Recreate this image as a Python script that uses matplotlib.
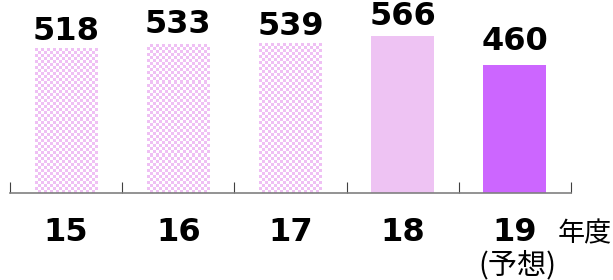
import matplotlib
matplotlib.use('Agg')
import matplotlib.pyplot as plt
from matplotlib.colors import ListedColormap
import numpy as np

years = ['15', '16', '17', '18', '19']
values = [518, 533, 539, 566, 460]
fills = ['#FFFFFF', '#FFFFFF', '#FFFFFF', '#EEC3F3', '#CC66FF']
patterned = [True, True, True, False, False]
label_gap = [6.2, 8.6, 6.0, 7.8, 10.8]  # points above bar top

fig = plt.figure(figsize=(6.13, 2.8), dpi=100)
ax = fig.add_axes([10/613, 87/280, 561/613, 193/280])
ax.set_xlim(-0.5, 4.5)
ax.set_ylim(0, 694)

x = np.arange(len(years))
checker = ListedColormap(['#FFFFFF', '#EFC0F4'])
cell = 3  # pixels per checker square
for i in range(len(years)):
    bars = ax.bar(x[i], values[i], width=0.56, color=fills[i], linewidth=0)
    if patterned[i]:
        # small checkerboard fill, clipped to the bar
        r = bars[0]
        x0, x1 = r.get_x(), r.get_x() + r.get_width()
        p0 = ax.transData.transform((x0, 0))
        p1 = ax.transData.transform((x1, values[i]))
        nx = int(round((p1[0] - p0[0]) / cell))
        ny = int(round((p1[1] - p0[1]) / cell))
        board = (np.add.outer(np.arange(ny), np.arange(nx)) % 2)
        ax.imshow(board, cmap=checker, extent=[x0, x1, 0, values[i]],
                  aspect='auto', interpolation='nearest', zorder=2,
                  clip_path=r, origin='lower')
    ax.annotate(str(values[i]), (x[i], values[i]), xytext=(0, label_gap[i]),
                textcoords='offset points', ha='center', va='baseline',
                fontsize=23, fontweight='bold', family='DejaVu Sans')

ax.set_xlim(-0.5, 4.5)
ax.set_ylim(0, 694)
for s in ['top', 'right', 'left']:
    ax.spines[s].set_visible(False)
ax.spines['bottom'].set_color('#808080')
ax.spines['bottom'].set_linewidth(1.2)
ax.spines['bottom'].set_zorder(3)
ax.set_yticks([])

ax.set_xticks(x)
ax.set_xticklabels(years, fontsize=23, fontweight='bold')
ax.tick_params(axis='x', which='major', length=0, pad=17)
ax.set_xticks(np.arange(-0.5, 5, 1), minor=True)
ax.tick_params(axis='x', which='minor', direction='in', length=8,
               width=0.8, color='#404040')

fig.text(558/613, 1 - 241/280, '年度', fontsize=19.5, ha='left', va='baseline',
         family=['Noto Sans CJK JP', 'DejaVu Sans'])
fig.text(517/613, 1 - 250/280, '(予想)', fontsize=21, ha='center', va='top',
         family=['Noto Sans CJK JP', 'DejaVu Sans'])

fig.savefig('out.png', dpi=100)
